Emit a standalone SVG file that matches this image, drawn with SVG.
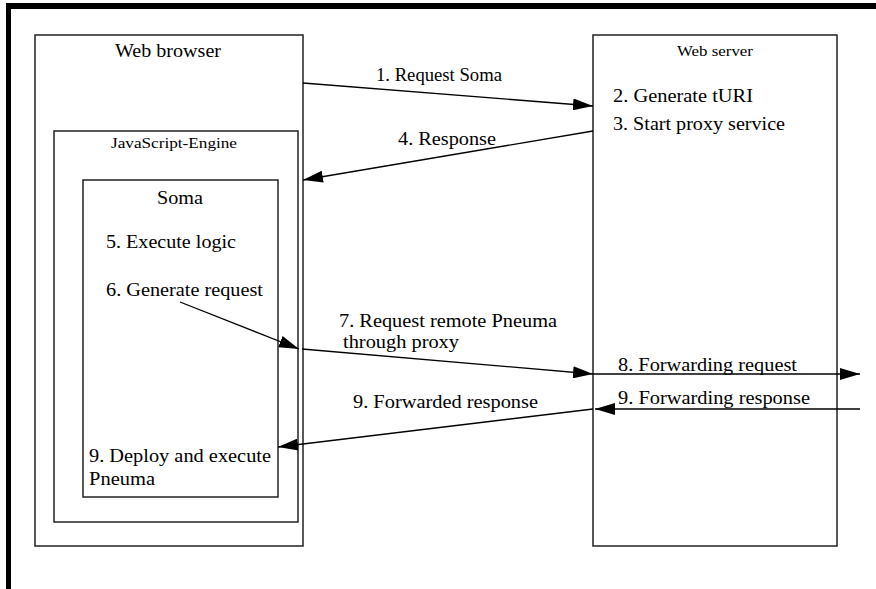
<svg xmlns="http://www.w3.org/2000/svg" width="876" height="589" viewBox="0 0 876 589">
<defs>
<style>
.box{fill:none;stroke:#222;stroke-width:1.5}
.t{font-family:'Liberation Serif','DejaVu Serif','Times New Roman',serif;font-size:18px;fill:#000}
.s{font-size:15px}
.c{stroke:#000;stroke-width:1.3;fill:none;marker-end:url(#ah)}
</style>
<marker id="ah" markerUnits="userSpaceOnUse" markerWidth="20" markerHeight="12" refX="20" refY="6" orient="auto">
<path d="M0,0 L20,6 L0,12 Z" fill="#000"/>
</marker>
</defs>
<rect width="876" height="589" fill="#fff"/>
<rect x="6" y="3" width="870" height="6" fill="#000"/>
<rect x="6" y="3" width="5" height="586" fill="#000"/>

<g font-family="Liberation Serif, DejaVu Serif, serif">
<g id="web-browser">
<rect class="box" x="35" y="35" width="268" height="511"/>
<text class="t" x="115" y="57" textLength="106" lengthAdjust="spacingAndGlyphs">Web browser</text>
</g>
<g id="js-engine">
<rect class="box" x="54" y="131" width="244" height="391"/>
<text class="t s" x="111" y="148" textLength="126" lengthAdjust="spacingAndGlyphs">JavaScript-Engine</text>
</g>
<g id="soma">
<rect class="box" x="83" y="180" width="195" height="317"/>
<text class="t" x="157" y="204" textLength="46" lengthAdjust="spacingAndGlyphs">Soma</text>
<text class="t" x="106" y="248" textLength="130" lengthAdjust="spacingAndGlyphs">5. Execute logic</text>
<text class="t" x="106" y="296" textLength="157" lengthAdjust="spacingAndGlyphs">6. Generate request</text>
<text class="t" x="89" y="462" textLength="182" lengthAdjust="spacingAndGlyphs">9. Deploy and execute</text>
<text class="t" x="89" y="485" textLength="66" lengthAdjust="spacingAndGlyphs">Pneuma</text>
</g>
<g id="web-server">
<rect class="box" x="593" y="35" width="244" height="511"/>
<text class="t s" x="677" y="56" textLength="76" lengthAdjust="spacingAndGlyphs">Web server</text>
<text class="t" x="613" y="102" textLength="140" lengthAdjust="spacingAndGlyphs">2. Generate tURI</text>
<text class="t" x="613" y="130" textLength="172" lengthAdjust="spacingAndGlyphs">3. Start proxy service</text>
</g>

<g id="connectors">
<line class="c" x1="303" y1="83" x2="593" y2="106"/>
<line class="c" x1="593" y1="131" x2="303" y2="180"/>
<line class="c" x1="180" y1="302" x2="299" y2="349"/>
<line class="c" x1="302" y1="349" x2="593" y2="374"/>
<line class="c" x1="593" y1="374" x2="860" y2="374"/>
<line class="c" x1="860" y1="409" x2="595" y2="409"/>
<line class="c" x1="593" y1="409" x2="278" y2="447"/>
<text class="t" x="376" y="81" textLength="126" lengthAdjust="spacingAndGlyphs">1. Request Soma</text>
<text class="t" x="398" y="145" textLength="98" lengthAdjust="spacingAndGlyphs">4. Response</text>
<text class="t" x="339" y="327" textLength="218" lengthAdjust="spacingAndGlyphs">7. Request remote Pneuma</text>
<text class="t" x="343" y="348" textLength="116" lengthAdjust="spacingAndGlyphs">through proxy</text>
<text class="t" x="353" y="408" textLength="185" lengthAdjust="spacingAndGlyphs">9. Forwarded response</text>
<text class="t" x="618" y="371" textLength="179" lengthAdjust="spacingAndGlyphs">8. Forwarding request</text>
<text class="t" x="618" y="404" textLength="192" lengthAdjust="spacingAndGlyphs">9. Forwarding response</text>
</g>
</g>
</svg>
